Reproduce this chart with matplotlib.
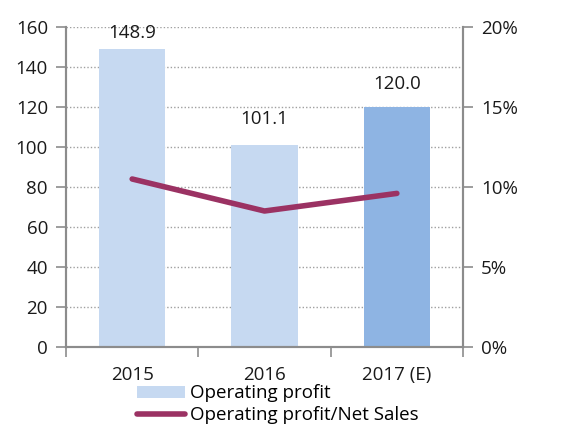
import matplotlib.pyplot as plt
import matplotlib.ticker as ticker

years = ["2015", "2016", "2017 (E)"]
op_profit = [148.9, 101.1, 120.0]
margin = [10.5, 8.5, 9.6]  # operating profit / net sales, %
label_gap = [5, 12, 10]  # points above bar top for value labels

bar_colors = ["#C6D9F1", "#C6D9F1", "#8EB4E3"]
line_color = "#9B3263"
spine_color = "#8C8C8C"

plt.rcParams['font.family'] = ['Open Sans', 'DejaVu Sans']
fs = 13.5

fig = plt.figure(figsize=(5.65, 4.25), dpi=100)
ax = fig.add_axes([0.1168, 0.1835, 0.7027, 0.753])
ax2 = ax.twinx()

x = range(len(years))
bars = ax.bar(x, op_profit, width=0.5, color=bar_colors, zorder=2, label="Operating profit")
for i, v in enumerate(op_profit):
    ax.annotate(f"{v:.1f}", (i, v), xytext=(0, label_gap[i]), textcoords="offset points",
                ha="center", va="bottom", fontsize=fs, color="#1a1a1a")

line, = ax2.plot(x, margin, color=line_color, lw=4, solid_capstyle="round",
                 label="Operating profit/Net Sales")

ax.set_xlim(-0.5, 2.5)
ax.set_ylim(0, 160)
ax2.set_ylim(0, 20)
ax.yaxis.set_major_locator(ticker.MultipleLocator(20))
ax2.yaxis.set_major_locator(ticker.MultipleLocator(5))
ax2.yaxis.set_major_formatter(ticker.FuncFormatter(lambda v, p: f"{v:.0f}%"))

ax.set_xticks([-0.5, 0.5, 1.5, 2.5])
ax.set_xticklabels([])
ax.set_xticks(list(x), minor=True)
ax.set_xticklabels(years, minor=True)
ax.tick_params(axis="x", which="major", length=7, width=1.2, color=spine_color, direction="out")
ax.tick_params(axis="x", which="minor", length=0, pad=14, labelsize=fs, labelcolor="#1a1a1a")
ax.tick_params(axis="y", length=7, width=1.2, color=spine_color, labelsize=fs, pad=6,
               labelcolor="#1a1a1a")
ax2.tick_params(axis="y", length=7, width=1.2, color=spine_color, labelsize=fs, pad=6,
                labelcolor="#1a1a1a")

ax.grid(axis="y", linestyle=(0, (1, 1.5)), color="#A0A0A0", lw=1, zorder=0)
ax.set_axisbelow(True)

for a in (ax, ax2):
    a.spines["top"].set_visible(False)
    for s in ("left", "right", "bottom"):
        a.spines[s].set_color(spine_color)
        a.spines[s].set_linewidth(1.5)

fig.legend([bars, line], ["Operating profit", "Operating profit/Net Sales"],
           loc="upper left", bbox_to_anchor=(0.242, 0.096), frameon=False, fontsize=fs,
           handlelength=2.6, handleheight=0.6, handletextpad=0.25, labelspacing=0.2,
           borderpad=0, borderaxespad=0)

fig.savefig("out.png", dpi=100)
